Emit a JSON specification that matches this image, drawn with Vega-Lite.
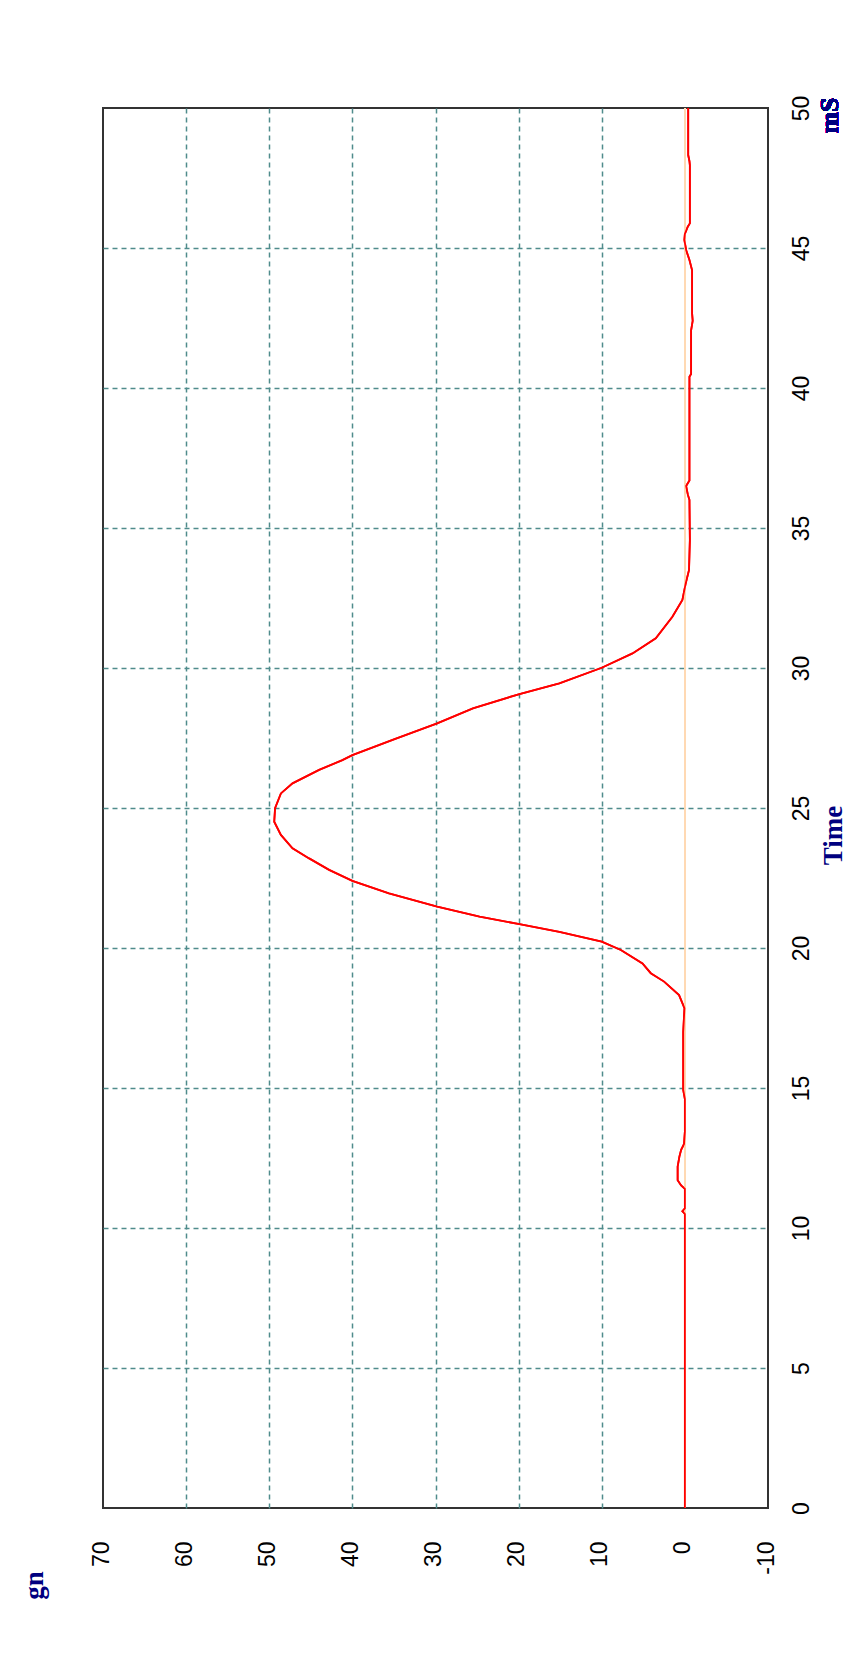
{
  "$schema": "https://vega.github.io/schema/vega-lite/v6.json",
  "width": 665,
  "height": 1400,
  "autosize": "none",
  "padding": {"left": 103, "top": 108, "right": 94, "bottom": 150},
  "background": "white",
  "config": {"view": {"stroke": "#333333", "strokeWidth": 2}},
  "data": {"values": [
    {"t": 0, "v": 0}, {"t": 10.5, "v": 0}, {"t": 10.6, "v": 0.3}, {"t": 10.7, "v": 0},
    {"t": 11.4, "v": 0}, {"t": 11.52, "v": 0.45}, {"t": 11.71, "v": 0.87}, {"t": 12.19, "v": 0.87},
    {"t": 12.55, "v": 0.66}, {"t": 12.79, "v": 0.45}, {"t": 13.0, "v": 0.1}, {"t": 13.44, "v": 0},
    {"t": 14.6, "v": 0}, {"t": 14.93, "v": 0.2}, {"t": 17.0, "v": 0.2}, {"t": 17.85, "v": 0.05},
    {"t": 18.32, "v": 0.7}, {"t": 18.8, "v": 2.5}, {"t": 19.1, "v": 4.1}, {"t": 19.45, "v": 5.1},
    {"t": 19.93, "v": 7.7}, {"t": 20.23, "v": 10.0}, {"t": 20.58, "v": 15.1}, {"t": 20.85, "v": 19.9},
    {"t": 21.12, "v": 24.7}, {"t": 21.48, "v": 29.8}, {"t": 21.95, "v": 35.6}, {"t": 22.4, "v": 40.0},
    {"t": 22.79, "v": 42.8}, {"t": 23.2, "v": 45.2}, {"t": 23.56, "v": 47.2}, {"t": 24.04, "v": 48.6},
    {"t": 24.51, "v": 49.4}, {"t": 24.99, "v": 49.3}, {"t": 25.52, "v": 48.6}, {"t": 25.88, "v": 47.2},
    {"t": 26.36, "v": 44.0}, {"t": 26.71, "v": 41.2}, {"t": 26.89, "v": 40.0}, {"t": 27.45, "v": 35.0},
    {"t": 28.02, "v": 29.8}, {"t": 28.56, "v": 25.5}, {"t": 29.07, "v": 19.9}, {"t": 29.45, "v": 15.1},
    {"t": 30.01, "v": 10.0}, {"t": 30.52, "v": 6.3}, {"t": 31.06, "v": 3.5}, {"t": 31.83, "v": 1.5},
    {"t": 32.43, "v": 0.3}, {"t": 33.02, "v": -0.1}, {"t": 33.5, "v": -0.5}, {"t": 34.57, "v": -0.6},
    {"t": 36.0, "v": -0.55}, {"t": 36.2, "v": -0.35}, {"t": 36.5, "v": -0.15}, {"t": 36.7, "v": -0.55},
    {"t": 40.4, "v": -0.55}, {"t": 40.5, "v": -0.75}, {"t": 42.06, "v": -0.75}, {"t": 42.4, "v": -0.94},
    {"t": 42.66, "v": -0.87}, {"t": 44.2, "v": -0.87}, {"t": 44.57, "v": -0.55}, {"t": 44.93, "v": -0.15},
    {"t": 45.29, "v": 0.06}, {"t": 45.5, "v": 0}, {"t": 45.76, "v": -0.35}, {"t": 45.88, "v": -0.6},
    {"t": 47.96, "v": -0.6}, {"t": 48.1, "v": -0.55}, {"t": 48.32, "v": -0.4}, {"t": 50, "v": -0.4}
  ]},
  "layer": [
    {
      "mark": {"type": "line", "color": "#ff0000", "strokeWidth": 1.8},
      "encoding": {
        "x": {"field": "v", "type": "quantitative",
          "scale": {"domain": [-10, 70], "reverse": true, "nice": false, "zero": false},
          "axis": {"orient": "bottom", "values": [-10, 0, 10, 20, 30, 40, 50, 60, 70],
            "grid": true, "gridColor": "#4f8c8c", "gridWidth": 1.5, "gridDash": [5, 4],
            "gridOpacity": {"condition": {"test": "datum.value === 0 || datum.value === -10 || datum.value === 70", "value": 0}, "value": 1},
            "domain": false, "ticks": false, "tickSize": 0,
            "labelAngle": -90, "labelAlign": "right", "labelBaseline": "middle", "labelPadding": 33, "labelOffset": -2,
            "labelExpr": "'' + datum.value",
            "labelFont": "Liberation Sans", "labelFontSize": 23, "labelColor": "#000000",
            "title": "gn", "titleFont": "Liberation Serif", "titleFontWeight": "bold", "titleFontSize": 27, "titleColor": "#000080",
            "titleAngle": -90, "titleAlign": "center", "titleBaseline": "alphabetic", "titleX": -61, "titleY": 77}},
        "y": {"field": "t", "type": "quantitative",
          "scale": {"domain": [0, 50], "nice": false},
          "axis": {"orient": "right", "values": [0, 5, 10, 15, 20, 25, 30, 35, 40, 45, 50],
            "grid": true, "gridColor": "#4f8c8c", "gridWidth": 1.5, "gridDash": [5, 4],
            "gridOpacity": {"condition": {"test": "datum.value === 0 || datum.value === 50", "value": 0}, "value": 1},
            "domain": false, "ticks": false, "tickSize": 0,
            "labelAngle": -90, "labelAlign": "center", "labelBaseline": "top", "labelPadding": 22,
            "labelFont": "Liberation Sans", "labelFontSize": 23, "labelColor": "#000000",
            "title": "Time", "titleFont": "Liberation Serif", "titleFontWeight": "bold", "titleFontSize": 27, "titleColor": "#000080",
            "titleAngle": -90, "titleAlign": "center", "titleBaseline": "top", "titleX": 52, "titleY": 727}},
        "order": {"field": "t", "type": "quantitative"}
      }
    },
    {
      "mark": {"type": "rule", "color": "#ffd9b3", "strokeWidth": 1.2},
      "encoding": {"x": {"datum": 0, "type": "quantitative", "scale": {"domain": [-10, 70], "reverse": true, "nice": false, "zero": false}}}
    },
    {
      "mark": {"type": "line", "color": "#ff0000", "strokeWidth": 1.8},
      "encoding": {
        "x": {"field": "v", "type": "quantitative"},
        "y": {"field": "t", "type": "quantitative"},
        "order": {"field": "t", "type": "quantitative"}
      }
    },
    {
      "mark": {"type": "text", "text": "mS", "angle": 270, "align": "center", "baseline": "middle", "font": "Liberation Serif", "fontWeight": "bold", "fontSize": 26, "color": "#000080"},
      "encoding": {
        "x": {"datum": -17.4, "type": "quantitative"},
        "y": {"datum": 49.73, "type": "quantitative"}
      }
    }
  ]
}
